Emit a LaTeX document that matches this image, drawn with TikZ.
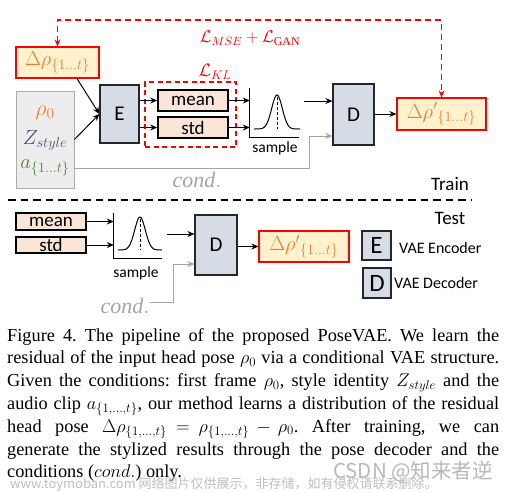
\RequirePackage{fix-cm}
\documentclass[tikz,border=0pt]{standalone}
\usepackage{fontspec}
\setmainfont{Liberation Serif}
\newfontfamily\calib{Carlito}
\newfontfamily\cjk{Noto Sans CJK SC}
\usetikzlibrary{arrows.meta,calc}
\frenchspacing
\definecolor{rred}{HTML}{FF0000}
\definecolor{porange}{HTML}{ED7D31}
\definecolor{pyellow}{HTML}{FFF2CC}
\definecolor{ppeach}{HTML}{FBE5D6}
\definecolor{pblue}{HTML}{D6DCE5}
\definecolor{pdark}{HTML}{44546A}
\definecolor{pgreen}{HTML}{548235}
\definecolor{pgrayfill}{HTML}{EDEDED}
\definecolor{pgrayline}{HTML}{AFABAB}
\definecolor{condgray}{HTML}{A5A5A5}
\definecolor{condtext}{HTML}{9DA5B0}
\newcommand{\fs}[1]{\fontsize{#1}{#1}\selectfont}
\tikzset{
  encbox/.style={draw=black!85, fill=pblue, line width=1.2pt, inner sep=0pt, font=\calib\fs{21}},
  statbox/.style={draw=black, fill=ppeach, line width=1.6pt, inner sep=0pt, minimum width=70pt, font=\calib\fs{19}},
  outbox/.style={draw=rred, fill=pyellow, line width=1.2pt, text=porange, inner sep=0pt, font=\fs{20.5}},
  arr/.style={-{Stealth[length=7pt,width=6pt]}, line width=1pt},
  garr/.style={arr, draw=condgray},
  reddash/.style={draw=rred, dash pattern=on 6pt off 4pt, line width=1.2pt},
  axisbox/.style={inner sep=0pt},
  lbl/.style={inner sep=0pt, font=\calib\fs{19}},
  caplin/.style={anchor=base west, inner sep=0pt, font=\fs{18.3}},
}
\begin{document}
\begin{tikzpicture}[x=1pt,y=-1pt]
\useasboundingbox (0,0) rectangle (508,491);
% ---------- Train ----------
\node[outbox, minimum width=83pt, minimum height=31pt] (dr) at (57.5,62.5) {$\Delta\rho_{\{1\ldots t\}}$};
\node[draw=pgrayline, fill=pgrayfill, line width=1pt, minimum width=58pt, minimum height=97pt, inner sep=0pt] (cond) at (45,139.5) {};
\node[inner sep=0pt, text=porange, font=\fs{22}] (rho0) at (45,113) {$\rho_0$};
\node[inner sep=0pt, text=pdark, font=\fs{20.5}] (zst) at (45,140) {$Z_{style}$};
\node[inner sep=0pt, text=pgreen, font=\fs{20.5}] (aa) at (45,168) {$a_{\{1\ldots t\}}$};
\node[encbox, minimum width=39pt, minimum height=58pt] (E) at (119.5,114) {E};
\node[draw=rred, dash pattern=on 5pt off 3.5pt, line width=1.2pt, minimum width=91pt, minimum height=65pt, inner sep=0pt] (kl) at (190.5,114.5) {};
\node[text=rred, inner sep=0pt, font=\fs{18}] (lkl) at (215,72) {$\mathcal{L}_{KL}$};
\node[statbox, minimum height=21pt] (mean) at (193,100.5) {mean};
\node[statbox, minimum height=21pt] (std) at (193,127.5) {std};
\node[axisbox, minimum width=49pt, minimum height=49pt] (s1) at (274.5,112.5) {};
\draw[line width=1.1pt] (s1.north west) |- (s1.south east);
\draw[line width=1pt] plot[domain=-23:23, samples=60, smooth] ({277+\x},{129-34*exp(-(\x/7.5)^2)});
\draw[line width=1pt, dash pattern=on 3pt off 2pt] (277,97) -- (277,129);
\node[lbl, font=\calib\fs{15.5}] (samp1) at (275,148) {sample};
\node[encbox, minimum width=41pt, minimum height=61pt] (D) at (353.5,114.5) {D};
\node[outbox, minimum width=89pt, minimum height=32pt] (drp) at (441.5,114) {$\Delta\rho'{}_{\{1\ldots t\}}$};
\node[text=condtext, inner sep=0pt, font=\fs{22}] (condt) at (197,180) {$\mathit{cond.}$};
\node[text=rred, inner sep=0pt, font=\fs{17}] (lmse) at (250,38) {$\mathcal{L}_{MSE}+\mathcal{L}_{\mathrm{GAN}}$};
\node[lbl] (train) at (450,184) {Train};
\coordinate (toprow) at (0,20);
\coordinate (s1out) at (304,101);
\coordinate (c1) at (309,136);
% connectors
\draw[reddash, {Stealth[length=7pt,width=6pt]}-{Stealth[length=7pt,width=6pt]}] (dr.north) |- (toprow -| drp.north) -- (drp.north);
\draw[arr] ($(dr.south)+(19.5,0)$) -- (E.west);
\draw[arr] (cond.east) -- (E.west);
\draw[arr] (E.east |- mean) -- (mean.west);
\draw[arr] (E.east |- std) -- (std.west);
\draw[arr] (mean.east) -- (mean.east -| s1.west);
\draw[arr] (std.east) -- (std.east -| s1.west);
\draw[arr] (s1out) -- (s1out -| D.west);
\draw[garr] (cond.east |- 0,168) -| (c1) -- (c1 -| D.west);
\draw[arr] (D.east |- drp) -- (drp.west);
% separator
\coordinate (sepl) at (8,200);
\coordinate (sepr) at (471,200);
\draw[line width=1.2pt, dash pattern=on 7.5pt off 5pt] (sepl) -- (sepr);
\node[lbl] (test) at (450,218) {Test};
% ---------- Test ----------
\node[statbox, minimum height=17pt] (mean2) at (51,221.5) {mean};
\node[statbox, minimum height=16pt] (std2) at (51,245) {std};
\node[axisbox, minimum width=48pt, minimum height=45pt] (s2) at (138,235.5) {};
\draw[line width=1.1pt] (s2.north west) |- (s2.south east);
\draw[line width=1pt] plot[domain=-22:22, samples=60, smooth] ({140+\x},{250-33*exp(-(\x/7.5)^2)});
\draw[line width=1pt, dash pattern=on 3pt off 2pt] (140,219) -- (140,250);
\node[lbl, font=\calib\fs{15.5}] (samp2) at (136,273) {sample};
\node[encbox, minimum width=42pt, minimum height=60pt] (D2) at (216,245) {D};
\node[outbox, minimum width=90pt, minimum height=31pt] (drp2) at (304,246.5) {$\Delta\rho'{}_{\{1\ldots t\}}$};
\node[text=condtext, inner sep=0pt, font=\fs{22}] (condt2) at (125,306) {$\mathit{cond.}$};
\coordinate (s2out) at (167,234);
\coordinate (c2) at (173,264);
\draw[arr] (mean2.east) -- (mean2.east -| s2.west);
\draw[arr] (std2.east) -- (std2.east -| s2.west);
\draw[arr] (s2out) -- (s2out -| D2.west);
\draw[garr] (condt2.east |- 0,302) -| (c2) -- (c2 -| D2.west);
\draw[arr] (D2.east |- drp2) -- (drp2.west);
% legend
\node[encbox, minimum width=29pt, minimum height=29pt, font=\calib\fs{25}] (legE) at (376.5,245.5) {E};
\node[encbox, minimum width=28pt, minimum height=30pt, font=\calib\fs{25}] (legD) at (377,283) {D};
\node[lbl, anchor=west, font=\calib\fs{16}] (encl) at (399,248) {VAE Encoder};
\node[lbl, anchor=west, font=\calib\fs{16}] (decl) at (394,283) {VAE Decoder};
% ---------- caption ----------
\node[caplin] (cap1) at (7,341) {\makebox[492pt][s]{Figure 4. The pipeline of the proposed PoseVAE. We learn the}};
\node[caplin] (cap2) at (7,363.8) {\makebox[492pt][s]{residual of the input head pose $\rho_0$ via a conditional VAE structure.}};
\node[caplin] (cap3) at (7,386.6) {\makebox[492pt][s]{Given the conditions: first frame $\rho_0$, style identity $Z_{style}$ and the}};
\node[caplin] (cap4) at (7,409.4) {\makebox[492pt][s]{audio clip $a_{\{1,\ldots,t\}}$, our method learns a distribution of the residual}};
\node[caplin] (cap5) at (7,432.2) {\thickmuskip=9mu\medmuskip=7mu\makebox[492pt][s]{head pose $\Delta\rho_{\{1,\ldots,t\}}=\rho_{\{1,\ldots,t\}}-\rho_0$. After training, we can}};
\node[caplin] (cap6) at (7,455) {\makebox[492pt][s]{generate the stylized results through the pose decoder and the}};
\node[caplin] (cap7) at (7,477.8) {conditions ($cond.$) only.};
% watermarks
\node[anchor=base east, inner sep=0pt, text=black!28, font=\cjk\fs{20.5}] (wm1) at (493,478) {CSDN @知来者逆};
\node[anchor=base west, inner sep=0pt, text=black!25, font=\cjk\fs{13}] (wm2) at (10,488) {www.toymoban.com 网络图片仅供展示，非存储，如有侵权请联系删除。};
\end{tikzpicture}
\end{document}
